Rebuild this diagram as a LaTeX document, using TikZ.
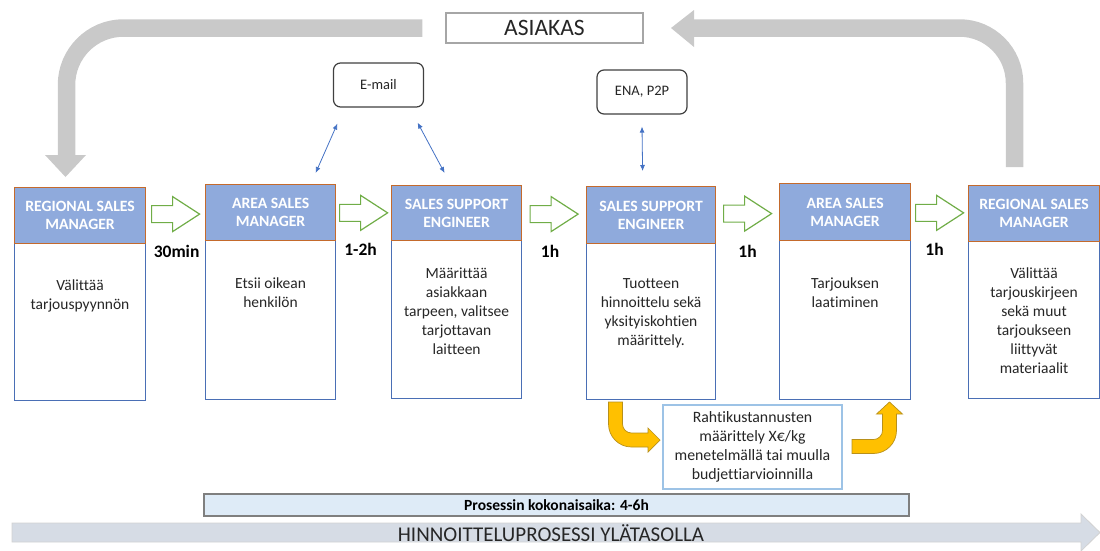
\documentclass[tikz,border=0pt]{standalone}
\usepackage{fontspec}
\setmainfont{Carlito}[Ligatures=NoCommon]
\usetikzlibrary{calc,arrows.meta}

\definecolor{hdrfill}{HTML}{8FAADC}
\definecolor{hdrline}{HTML}{C46A2C}
\definecolor{bodyline}{HTML}{4A6FB5}
\definecolor{txtcol}{HTML}{262626}
\definecolor{flowgreen}{HTML}{70AD47}
\definecolor{bandgray}{HTML}{C9C9C9}
\definecolor{boxgray}{HTML}{A6A6A6}
\definecolor{linkblue}{HTML}{4472C4}
\definecolor{gold}{HTML}{FFC000}
\definecolor{goldline}{HTML}{B8901A}
\definecolor{paleblue}{HTML}{9DC3E6}
\definecolor{totalfill}{HTML}{DEEBF7}
\definecolor{totalline}{HTML}{7F7F7F}
\definecolor{basefill}{HTML}{D6DCE5}
\definecolor{basedraw}{HTML}{D2D2D2}

% one process stage: body frame, coloured title bar, description
% #1 name, #2 left, #3 top, #4 right, #5 bar bottom, #6 bottom,
% #7 title, #8 offset of description below bar, #9 description
\newcommand\stagecard[9]{%
  \node[cardbody, minimum width={#4-#2}, minimum height={#6-#5}, anchor=north west] (#1) at (#2,#5) {};
  \node[cardhead, minimum width={#4-#2}, minimum height={#5-#3}, anchor=north west] (#1h) at (#2,#3) {#7};
  \node[bodytxt] (#1t) at ($(#1.north)+(0,#8)$) {\strut #9};
}

\begin{document}
\begin{tikzpicture}[x=1pt,y=-1pt,
  cardbody/.style={draw=bodyline, line width=1.1pt, fill=white, inner sep=0pt},
  cardhead/.style={draw=hdrline, line width=1.2pt, fill=hdrfill, inner sep=0pt,
    text=white, align=center, font=\bfseries\fontsize{15.7}{18}\selectfont},
  bodytxt/.style={anchor=north, inner sep=0pt, align=center, text=txtcol,
    font=\fontsize{15.5}{19}\selectfont},
  timelbl/.style={inner sep=0pt, text=black, font=\bfseries\fontsize{17.5}{20}\selectfont},
  greenarrow/.style={draw=flowgreen, line width=1.2pt, fill=white, line join=miter},
  garrow/.pic={\draw[greenarrow] (-24,-8.5) -- (-3,-8.5) -- (-3,-17.5) -- (24,0)
      -- (-3,17.5) -- (-3,8.5) -- (-24,8.5) -- cycle;},
  grayband/.style={draw=bandgray, line width=17.5pt},
  tool/.style={draw=black!75, line width=1.2pt, rounded corners=7pt, fill=white,
    minimum width=90pt, minimum height=44pt, inner sep=0pt, text=txtcol,
    font=\fontsize{14.5}{17}\selectfont},
  bluelink/.style={draw=linkblue, line width=0.8pt,
    {Latex[length=6pt,width=5pt]}-{Latex[length=6pt,width=5pt]}},
  goldarrow/.style={fill=gold, draw=goldline, line width=0.7pt, line join=miter}
]
\useasboundingbox (0,0) rectangle (1100,550);

% customer at the top
\node[draw=boxgray, line width=1.2pt, fill=white, minimum width=197pt, minimum height=30pt,
  inner sep=0pt, font=\fontsize{23.5}{26}\selectfont, text=txtcol] (asiakas) at (544.5,28) {ASIAKAS};

% the six stages
\stagecard{s1}{14}{187}{145}{243}{400}{REGIONAL SALES\\MANAGER}{34}{Välittää\\tarjouspyynnön}
\stagecard{s2}{205}{184}{335}{240}{399}{AREA SALES\\MANAGER}{35}{Etsii oikean\\henkilön}
\stagecard{s3}{391}{185}{521}{240}{398}{SALES SUPPORT\\ENGINEER}{25}{Määrittää\\asiakkaan\\tarpeen, valitsee\\tarjottavan\\laitteen}
\stagecard{s4}{586}{186}{715}{243}{399}{SALES SUPPORT\\ENGINEER}{32}{Tuotteen\\hinnoittelu sekä\\yksityiskohtien\\määrittely.}
\stagecard{s5}{779}{183}{910}{240}{399}{AREA SALES\\MANAGER}{35}{Tarjouksen\\laatiminen}
\stagecard{s6}{968}{185}{1099}{241}{398}{REGIONAL SALES\\MANAGER}{24}{Välittää\\tarjouskirjeen\\sekä muut\\tarjoukseen\\liittyvät\\materiaalit}

% hand-over arrows with their durations
\coordinate (m1) at ($(s1h.east)!0.5!(s2h.west)$);
\coordinate (m2) at ($(s2h.east)!0.5!(s3h.west)$);
\coordinate (m3) at ($(s3h.east)!0.5!(s4h.west)$);
\coordinate (m4) at ($(s4h.east)!0.5!(s5h.west)$);
\coordinate (m5) at ($(s5h.east)!0.5!(s6h.west)$);
\pic at (m1) {garrow};
\pic at (m2) {garrow};
\pic at (m3) {garrow};
\pic at (m4) {garrow};
\pic at (m5) {garrow};
\node[timelbl] (d1) at ($(m1)+(1,37)$) {30min};
\node[timelbl] (d2) at ($(m2)+(-3,37)$) {1-2h};
\node[timelbl] (d3) at ($(m3)+(-4,37)$) {1h};
\node[timelbl] (d4) at ($(m4)+(0,38)$) {1h};
\node[timelbl] (d5) at ($(m5)+(-5,37)$) {1h};

% request coming in from the customer
\draw[grayband, rounded corners=57pt] ($(asiakas.west)+(-23,0)$) -- (66.5,28) -- (66.5,156);
\fill[bandgray] (45,155) -- (86,155) -- (65.5,177) -- cycle;
% offer going back to the customer
\draw[grayband, rounded corners=55pt] (1014.5,167) -- (1014.5,28) -- (693,28);
\fill[bandgray] (694,10) -- (694,47) -- (671,28) -- cycle;

% tools used along the way
\node[tool] (email) at (378.5,85) {E-mail};
\node[tool] (ena) at (642,92) {ENA, P2P};
\draw[bluelink] ($(email.south west)+(4.5,16)$) -- ($(s2h.north)+(45,-11)$);
\draw[bluelink] ($(email.south east)+(-6.5,15)$) -- ($(s3h.north)+(-12,-12)$);
\draw[bluelink] ($(ena.south)+(0,12)$) -- ($(s4h.north)+(-8.5,-15)$);

% freight cost side step
\node[draw=paleblue, line width=1.2pt, fill=white, minimum width=179pt, minimum height=84pt,
  inner sep=0pt, align=center, text=txtcol, font=\fontsize{15.8}{19}\selectfont]
  (rahti) at (752.5,447) {\raisebox{-3pt}{\parbox{179pt}{\centering Rahtikustannusten\\määrittely X€/kg\\menetelmällä tai muulla\\budjettiarvioinnilla}}};
\draw[goldarrow] (608.5,402) -- (608.5,424) arc[start angle=180,end angle=90,radius=23]
  -- (648,447) -- (648,452) -- (660,440) -- (648,428) -- (648,433) -- (631.5,433)
  arc[start angle=90,end angle=180,radius=9] -- (622.5,402) -- cycle;
\draw[goldarrow] (852,453.5) -- (873.5,453.5) arc[start angle=90,end angle=0,radius=23]
  -- (896.5,414) -- (902.5,414) -- (889.5,402) -- (876.5,414) -- (882.5,414) -- (882.5,430.5)
  arc[start angle=0,end angle=90,radius=9] -- (852,439.5) -- cycle;

% total duration
\node[draw=totalline, line width=1.5pt, fill=totalfill, minimum width=705pt, minimum height=22pt,
  inner sep=0pt, font=\bfseries\fontsize{15.5}{17}\selectfont, text=black]
  (total) at (556.5,505) {Prosessin kokonaisaika: 4-6h};

% overall process band
\draw[fill=basefill, draw=basedraw, line width=0.8pt, line join=miter]
  (12,523) -- (1081,523) -- (1081,514) -- (1100,532.5) -- (1081,551) -- (1081,542) -- (12,542) -- cycle;
\node[inner sep=0pt, font=\fontsize{21}{24}\selectfont, text=txtcol] (process) at (551,533)
  {HINNOITTELUPROSESSI YLÄTASOLLA};
\end{tikzpicture}
\end{document}
